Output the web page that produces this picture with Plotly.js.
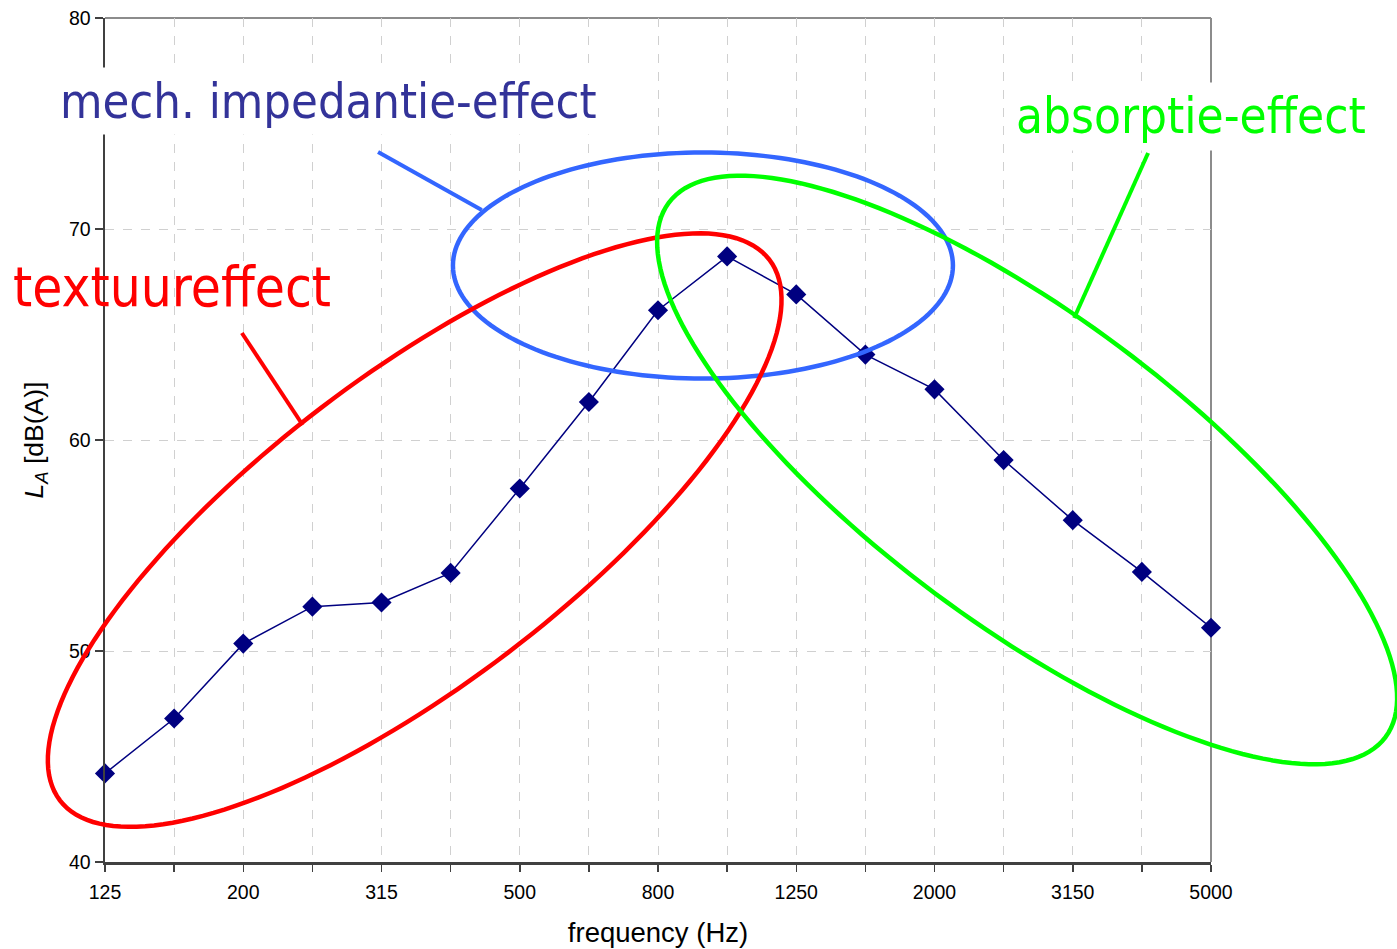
<!DOCTYPE html>
<html>
<head>
<meta charset="utf-8">
<script src="https://cdn.plot.ly/plotly-3.0.1.min.js"></script>
<style>
html,body{margin:0;padding:0;background:#fff;}
#chart{width:1397px;height:949px;}
</style>
</head>
<body>
<div id="chart"></div>
<script>
// ---- data ----
var frequencies = ["125","160","200","250","315","400","500","630","800","1000","1250","1600","2000","2500","3150","4000","5000"];
var levels = [44.2, 46.8, 50.35, 52.1, 52.3, 53.7, 57.7, 61.8, 66.15, 68.7, 66.9, 64.05, 62.4, 59.05, 56.2, 53.75, 51.1];
var tickLabels = ["125","","200","","315","","500","","800","","1250","","2000","","3150","","5000"];

// annotation callouts (centre in data units, semi-axes in px, angle in deg)
var ellipseSpecs = [
  {cx: 8.65, cy: 68.27, a: 250, b: 113, ang: 0, color: "#3366FF"},
  {cx: 4.48, cy: 55.73, a: 446, b: 154, ang: 37.3, color: "#FF0000"},
  {cx: 13.34, cy: 58.58, a: 447, b: 154, ang: -36.7, color: "#00FF00"}
];
var pointerSpecs = [
  {x0: 3.95, y0: 73.65, x1: 5.45, y1: 70.9, color: "#3366FF"},
  {x0: 1.98, y0: 65.07, x1: 2.86, y1: 60.71, color: "#FF0000"},
  {x0: 15.09, y0: 73.6, x1: 14.02, y1: 65.78, color: "#00FF00"}
];

// ---- geometry helpers ----
var W = 1397, H = 949;
var M = {l: 105, r: 186, t: 18, b: 87};
var PW = W - M.l - M.r, PH = H - M.t - M.b;
var XMAX = frequencies.length - 1, YMIN = 40, YMAX = 80;
function dataToPx(xi, y){ return [M.l + xi / XMAX * PW, M.t + (YMAX - y) / (YMAX - YMIN) * PH]; }
function pxToPaper(px, py){ return [(px - M.l) / PW, (H - M.b - py) / PH]; }

var shapes = [];
ellipseSpecs.forEach(function(e){
  var c = dataToPx(e.cx, e.cy);
  var th = e.ang * Math.PI / 180;
  var parts = [];
  var N = 180;
  for (var i = 0; i <= N; i++) {
    var t = 2 * Math.PI * i / N;
    var px = c[0] + e.a * Math.cos(th) * Math.cos(t) - e.b * Math.sin(th) * Math.sin(t);
    var py = c[1] - (e.a * Math.sin(th) * Math.cos(t) + e.b * Math.cos(th) * Math.sin(t));
    var p = pxToPaper(px, py);
    parts.push((i === 0 ? "M" : "L") + p[0].toFixed(5) + "," + p[1].toFixed(5));
  }
  shapes.push({type: "path", xref: "paper", yref: "paper", path: parts.join(" ") + " Z",
    line: {color: e.color, width: 4.5}, layer: "above"});
});
pointerSpecs.forEach(function(s){
  shapes.push({type: "line", xref: "x", yref: "y", x0: s.x0, y0: s.y0, x1: s.x1, y1: s.y1,
    line: {color: s.color, width: 4}, layer: "above"});
});
// top & right frame
shapes.push({type: "line", xref: "paper", yref: "paper", x0: 0, x1: 1, y0: 1, y1: 1, line: {color: "#8c8c8c", width: 2}, layer: "below"});
shapes.push({type: "line", xref: "paper", yref: "paper", x0: 1, x1: 1, y0: 0, y1: 1, line: {color: "#8c8c8c", width: 2}, layer: "below"});

var labelFont = "DejaVu Sans Condensed, DejaVu Sans, sans-serif";
function ann(text, px, py, size, color, bg) {
  var p = pxToPaper(px, py);
  return {xref: "paper", yref: "paper", x: p[0], y: p[1], xanchor: "center", yanchor: "middle",
    text: text, showarrow: false, font: {family: labelFont, size: size, color: color},
    bgcolor: bg || "rgba(0,0,0,0)", borderpad: 5};
}
var annotations = [
  ann("mech. impedantie-effect", 328, 101, 48.5, "#333399", "#ffffff"),
  ann("absorptie-effect", 1191, 116, 49, "#00FF00", "#ffffff"),
  ann("textuureffect", 172, 287, 54.5, "#FF0000", null)
];

var trace = {
  x: frequencies, y: levels, type: "scatter", mode: "lines+markers",
  line: {color: "#000080", width: 1.5},
  marker: {symbol: "diamond", size: 15.5, color: "#000080"},
  cliponaxis: false, showlegend: false
};

var axFont = "Liberation Sans, Arial, sans-serif";
var tickFont = {family: axFont, size: 19.5, color: "#000"};
var layout = {
  width: W, height: H,
  margin: M,
  paper_bgcolor: "#fff", plot_bgcolor: "#fff",
  showlegend: false,
  xaxis: {
    type: "category", range: [0, XMAX], tickmode: "array", tickvals: frequencies, ticktext: tickLabels,
    ticks: "outside", ticklen: 7, tickwidth: 1.5, tickcolor: "#404040",
    showline: true, linecolor: "#404040", linewidth: 2.5,
    showgrid: true, gridcolor: "#d0d0d0", griddash: "dash", gridwidth: 1,
    tickfont: tickFont, zeroline: false, tickangle: 0, ticklabelstandoff: 4,
    title: {text: "frequency (Hz)", font: {family: axFont, size: 27.5, color: "#000"}, standoff: 21}
  },
  yaxis: {
    range: [YMIN, YMAX], dtick: 10, tick0: 40,
    ticks: "outside", ticklen: 8, tickwidth: 1.5, tickcolor: "#404040",
    showline: true, linecolor: "#404040", linewidth: 2.5,
    showgrid: true, gridcolor: "#d0d0d0", griddash: "dash", gridwidth: 1,
    tickfont: tickFont, zeroline: false,
    title: {text: "<i>L</i><sub><i>A</i></sub> [dB(A)]", font: {family: axFont, size: 26.5, color: "#000"}, standoff: 18}
  },
  shapes: shapes,
  annotations: annotations
};

Plotly.newPlot("chart", [trace], layout, {staticPlot: true, displayModeBar: false});
</script>
</body>
</html>
